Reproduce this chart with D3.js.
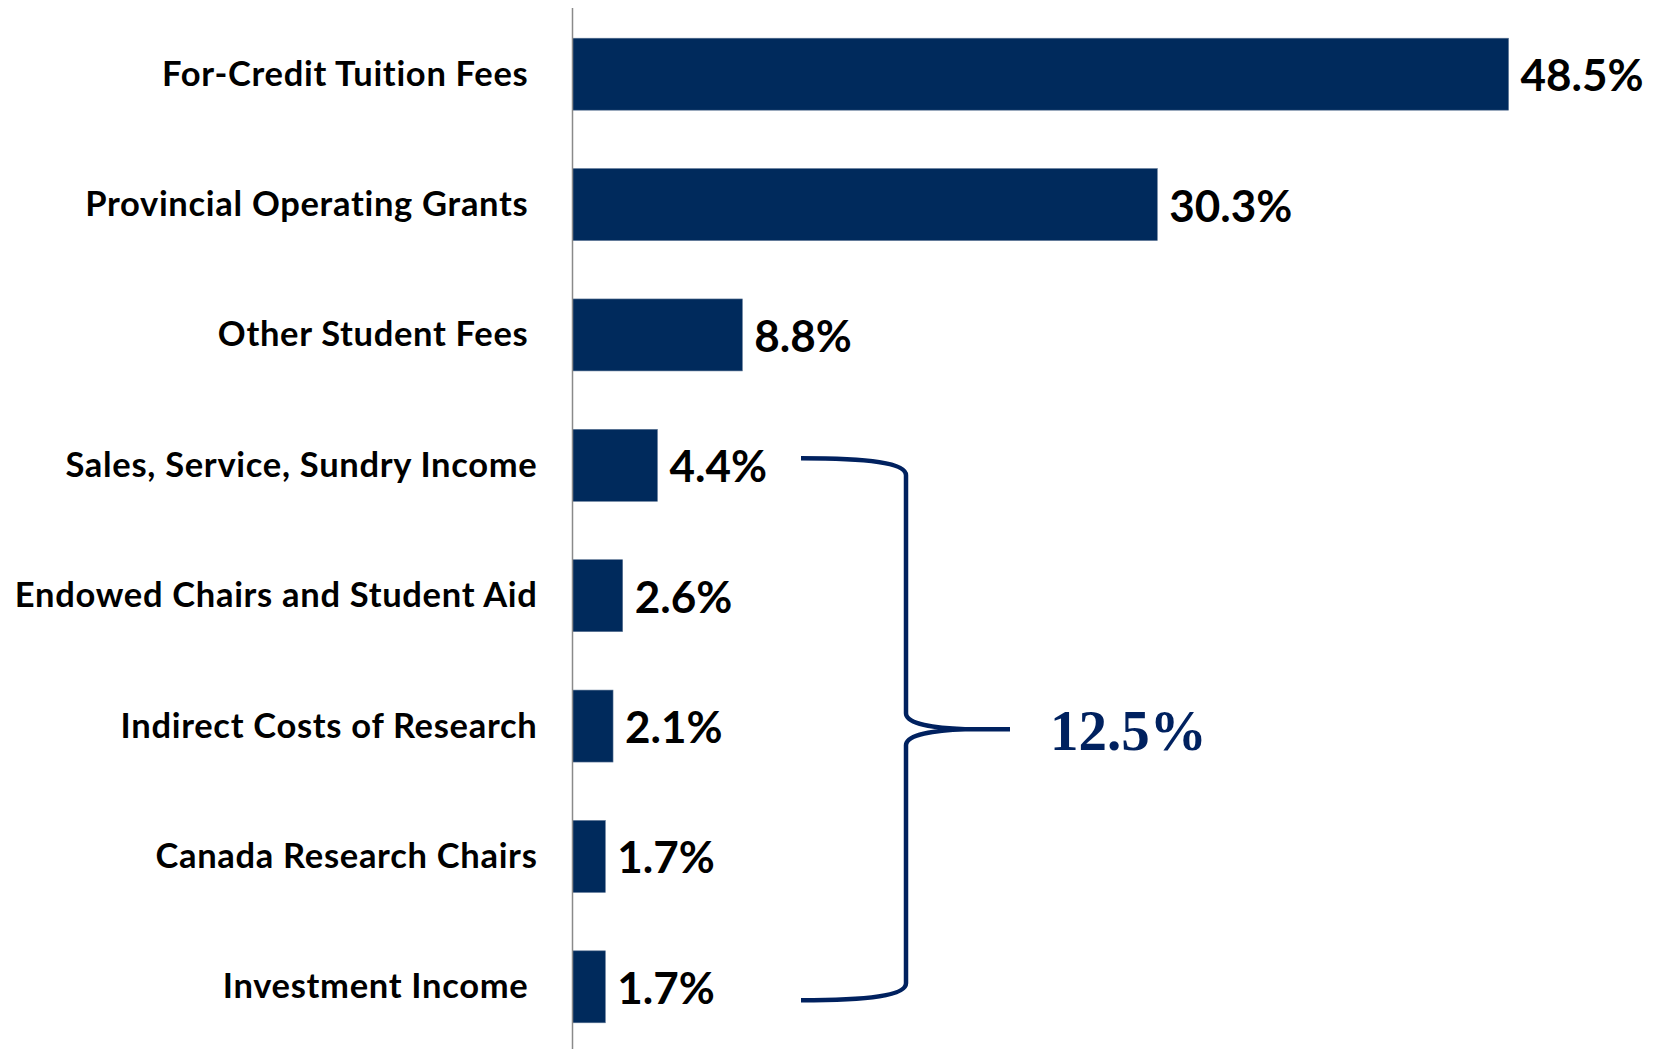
<!DOCTYPE html>
<html>
<head>
<meta charset="utf-8">
<script src="https://cdn.jsdelivr.net/npm/d3@7"></script>
<style>
  html, body { margin: 0; padding: 0; background: #ffffff; }
  svg { display: block; }
  text { white-space: pre; }
</style>
</head>
<body>
<div id="chart"></div>
<script>
// ---- data ----
const categories = [
  "For-Credit Tuition Fees ",
  "Provincial Operating Grants ",
  "Other Student Fees ",
  "Sales, Service, Sundry Income",
  "Endowed Chairs and Student Aid",
  "Indirect Costs of Research",
  "Canada Research Chairs",
  "Investment Income "
];
const values = [48.5, 30.3, 8.8, 4.4, 2.6, 2.1, 1.7, 1.7];
const valueLabels = ["48.5%", "30.3%", "8.8%", "4.4%", "2.6%", "2.1%", "1.7%", "1.7%"];
const groupFirst = "Sales, Service, Sundry Income";
const groupLast = "Investment Income ";
const groupTotalLabel = "12.5%";

// ---- layout ----
const W = 1659, H = 1049;
const barColor = "#002A5C";
const braceColor = "#00215F";

const svg = d3.select("#chart").append("svg")
  .attr("width", W).attr("height", H);

const x = d3.scaleLinear().domain([0, 50]).range([572.5, 572.5 + 50 * 19.3]);
const y = d3.scaleBand().domain(categories).range([9, 1052])
  .paddingInner(0.448).paddingOuter(0.224);
const bw = y.bandwidth();

// bars
svg.append("g").selectAll("rect")
  .data(values)
  .join("rect")
  .attr("x", x(0))
  .attr("y", (d, i) => y(categories[i]))
  .attr("width", d => x(d) - x(0))
  .attr("height", bw)
  .attr("fill", barColor)
  .attr("stroke", "#5a7393")
  .attr("stroke-width", 0.6);

// vertical axis line
svg.append("line")
  .attr("x1", x(0)).attr("x2", x(0))
  .attr("y1", 8).attr("y2", H)
  .attr("stroke", "#8a8a8a").attr("stroke-width", 1.5);

// category labels
svg.append("g").selectAll("text")
  .data(categories)
  .join("text")
  .attr("x", x(0) - 35)
  .attr("y", d => y(d) + bw / 2 + 11.5)
  .attr("text-anchor", "end")
  .attr("font-family", "Lato, 'Open Sans', sans-serif")
  .attr("font-weight", 700)
  .attr("font-size", 34.5)
  .attr("letter-spacing", "0.7px")
  .attr("fill", "#000")
  .text(d => d);

// value labels
svg.append("g").selectAll("text")
  .data(values)
  .join("text")
  .attr("x", d => x(d) + 12)
  .attr("y", (d, i) => y(categories[i]) + bw / 2 + 17)
  .attr("font-family", "Lato, 'Open Sans', sans-serif")
  .attr("font-weight", 700)
  .attr("font-size", 44)
  .attr("fill", "#000")
  .text((d, i) => valueLabels[i]);

// curly brace annotation
const braceTop = y(groupFirst) + bw / 2 - 7;
const braceBot = y(groupLast) + bw / 2 + 13.5;
const bx0 = 801, bxv = 906, btip = 1010;
const bmid = (braceTop + braceBot) / 2;
const p = d3.path();
p.moveTo(bx0, braceTop);
p.bezierCurveTo(870, braceTop, bxv, braceTop + 5, bxv, braceTop + 17);
p.lineTo(bxv, bmid - 16);
p.bezierCurveTo(bxv, bmid - 5, 935, bmid - 1, 965, bmid);
p.lineTo(btip, bmid);
p.moveTo(965, bmid);
p.bezierCurveTo(935, bmid + 1, bxv, bmid + 5, bxv, bmid + 16);
p.lineTo(bxv, braceBot - 17);
p.bezierCurveTo(bxv, braceBot - 5, 870, braceBot, bx0, braceBot);
svg.append("path")
  .attr("d", p.toString())
  .attr("fill", "none")
  .attr("stroke", braceColor)
  .attr("stroke-width", 4.5);

svg.append("text")
  .attr("x", btip + 40)
  .attr("y", bmid + 21)
  .attr("font-family", "'Liberation Serif', 'DejaVu Serif', serif")
  .attr("font-weight", 700)
  .attr("font-size", 57)
  .attr("fill", braceColor)
  .text(groupTotalLabel);
</script>
</body>
</html>
